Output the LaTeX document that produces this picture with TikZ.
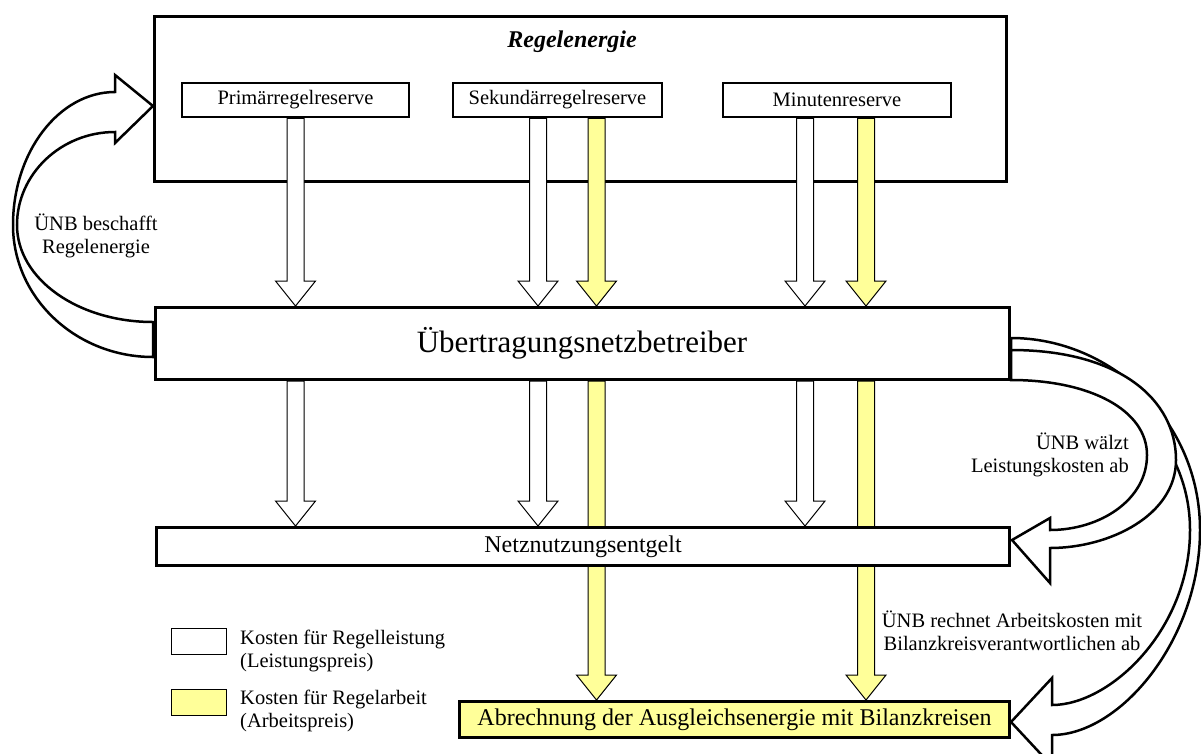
\documentclass[tikz,border=0pt]{standalone}
\usepackage{fontspec}
\setmainfont{Liberation Serif}
\usetikzlibrary{calc}

\definecolor{arbeit}{RGB}{255,255,153}

\tikzset{
  x=1pt, y=-1pt,
  bigbox/.style={draw, line width=3pt, fill=white, inner sep=0pt},
  resbox/.style={draw, line width=2.5pt, fill=white, inner sep=0pt, minimum height=34pt},
  legbox/.style={draw, line width=1.3pt, inner sep=0pt, minimum width=55pt, minimum height=26pt},
  blockarr/.style={draw, line width=1pt, line join=miter},
  curvearr/.style={draw, line width=2.5pt, fill=white, line join=miter},
  txt/.style={font=\fontsize{20.5}{23.5}\selectfont, inner sep=0pt},
  bigtxt/.style={font=\fontsize{24}{28}\selectfont, inner sep=0pt},
}

% straight block arrow: #1 fill, #2 column coordinate, #3 source node, #4 target node
\newcommand\blockarrow[4]{%
  \draw[blockarr, fill=#1] let \p1=(#2 |- #3.south), \p2=(#2 |- #4.north) in
    (\x1-8.5pt,\y1) -- (\x1-8.5pt,\y2+25pt) -- (\x1-20pt,\y2+25pt) -- (\x1,\y2)
    -- (\x1+20pt,\y2+25pt) -- (\x1+8.5pt,\y2+25pt) -- (\x1+8.5pt,\y1) -- cycle;}

\begin{document}
\begin{tikzpicture}
\useasboundingbox (0,0) rectangle (1201,753);

% outer frame for the control energy products
\node[bigbox, minimum width=852pt, minimum height=165pt] (regel) at (580,98.5) {};
\node[bigtxt, font=\fontsize{24}{28}\selectfont\bfseries\itshape] (regeltitle) at (572,42) {Regelenergie};

% column positions of the cost flows
\coordinate (colP)  at (295.5,0);
\coordinate (colSw) at (538,0);
\coordinate (colSy) at (596.5,0);
\coordinate (colMw) at (805,0);
\coordinate (colMy) at (866,0);

% box outlines used as anchors for the arrows (drawn on top further below)
\path (295.5,100) node[resbox, minimum width=227pt, draw=none, fill=none] (prim) {};
\path (557.5,100) node[resbox, minimum width=209pt, draw=none, fill=none] (sek) {};
\path (837,100) node[resbox, minimum width=228pt, draw=none, fill=none] (minr) {};
\path (582,343.5) node[bigbox, minimum width=854pt, minimum height=72pt, draw=none, fill=none] (uenb) {};
\path (583,546.5) node[bigbox, minimum width=853pt, minimum height=38pt, draw=none, fill=none] (netz) {};
\path (734.5,719.5) node[bigbox, minimum width=550pt, minimum height=36pt, draw=none, fill=none] (abr) {};

% arrows into the TSO
\blockarrow{white}{colP}{prim}{uenb}
\blockarrow{white}{colSw}{sek}{uenb}
\blockarrow{arbeit}{colSy}{sek}{uenb}
\blockarrow{white}{colMw}{minr}{uenb}
\blockarrow{arbeit}{colMy}{minr}{uenb}

% arrows out of the TSO
\blockarrow{white}{colP}{uenb}{netz}
\blockarrow{white}{colSw}{uenb}{netz}
\blockarrow{white}{colMw}{uenb}{netz}
\blockarrow{arbeit}{colSy}{uenb}{abr}
\blockarrow{arbeit}{colMy}{uenb}{abr}

% TSO procures control energy
\draw[curvearr] (153,357) .. controls (76,357) and (13,298) .. (13,225)
  .. controls (13,152) and (59,92) .. (115,92) -- (115,75) -- (153,106) -- (115,143)
  -- (115,132) .. controls (61,132) and (17,174) .. (17,225)
  .. controls (17,279) and (78,322) .. (153,322) -- cycle;

% TSO settles energy costs with balance groups
\draw[curvearr] (1011,338) .. controls (1110,338) and (1200,420) .. (1200,530)
  .. controls (1200,640) and (1120,735) .. (1052,735) -- (1052,766) -- (1011,722)
  -- (1052,678) -- (1052,705) .. controls (1110,705) and (1190,630) .. (1190,530)
  .. controls (1190,430) and (1100,362) .. (1011,362) -- cycle;

% TSO passes on capacity costs
\draw[curvearr] (1011,350) .. controls (1120,350) and (1176,400) .. (1176,460)
  .. controls (1176,515) and (1110,548) .. (1050,548) -- (1050,583) -- (1012,540)
  -- (1050,518) -- (1050,530) .. controls (1100,530) and (1147,500) .. (1147,455)
  .. controls (1147,410) and (1090,380) .. (1011,380) -- cycle;

% visible boxes
\node[resbox, minimum width=227pt] at (prim) {};
\node[txt] at (prim) {Primärregelreserve};
\node[resbox, minimum width=209pt] at (sek) {};
\node[txt] at (sek) {Sekundärregelreserve};
\node[resbox, minimum width=228pt] at (minr) {};
\node[txt] at (minr) {Minutenreserve};

\node[bigbox, minimum width=854pt, minimum height=72pt] at (uenb) {};
\node[txt, font=\fontsize{31}{36}\selectfont] at (uenb) {Übertragungsnetzbetreiber};

\node[bigbox, minimum width=853pt, minimum height=38pt] at (netz) {};
\node[bigtxt] at (netz) {Netznutzungsentgelt};

\node[bigbox, fill=arbeit, minimum width=550pt, minimum height=36pt] at (abr) {};
\node[bigtxt] at (abr) {Abrechnung der Ausgleichsenergie mit Bilanzkreisen};

% arrow labels
\node[txt, align=center] (lblbeschafft) at (96,236) {ÜNB beschafft\\Regelenergie};
\node[txt, align=right, anchor=east] (lblwaelzt) at (1129,455) {ÜNB wälzt\\Leistungskosten ab};
\node[txt, align=center] (lblrechnet) at (1012,631) {ÜNB rechnet Arbeitskosten mit\\Bilanzkreisverantwortlichen ab};

% legend
\node[legbox, fill=white] (legL) at (199,641.5) {};
\node[txt, align=left, anchor=west] (legLtxt) at (240,651) {Kosten für Regelleistung\\(Leistungspreis)};
\node[legbox, fill=arbeit] (legA) at (199,702.5) {};
\node[txt, align=left, anchor=west] (legAtxt) at (240,711) {Kosten für Regelarbeit\\(Arbeitspreis)};
\end{tikzpicture}
\end{document}
